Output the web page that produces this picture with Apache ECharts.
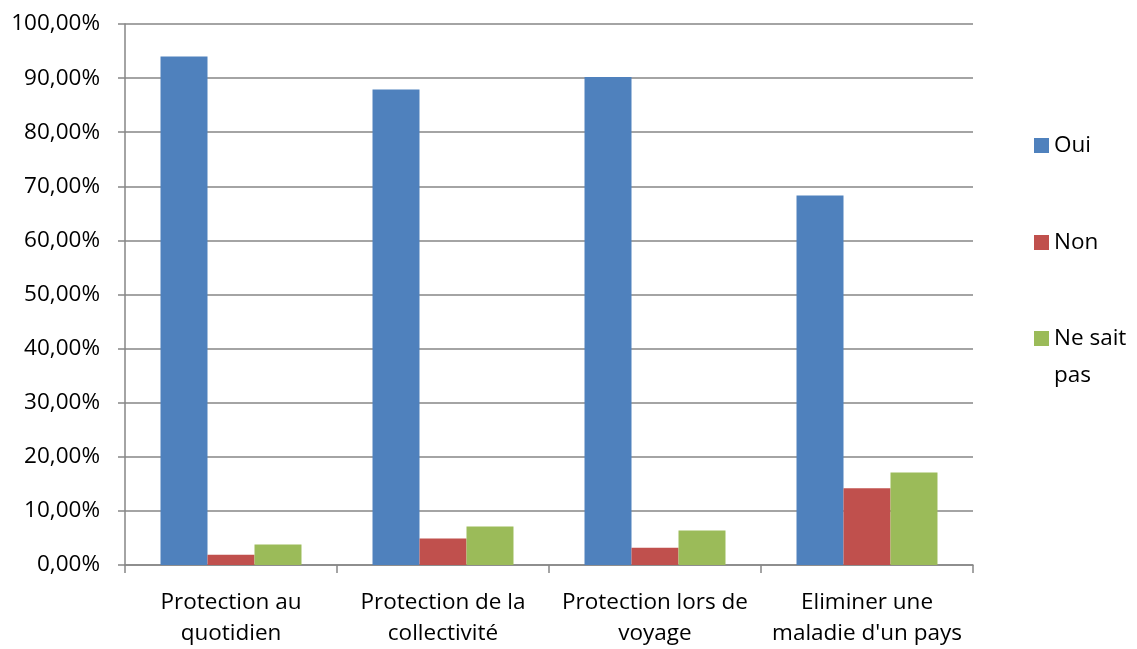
<!DOCTYPE html>
<html>
<head>
<meta charset="utf-8">
<script src="https://cdn.jsdelivr.net/npm/echarts@6/dist/echarts.min.js"></script>
<style>
html,body{margin:0;padding:0;background:#fff;}
#chart{width:1137px;height:649px;}
</style>
</head>
<body>
<div id="chart"></div>
<script>
const categories = ['Protection au\nquotidien', 'Protection de la\ncollectivité', 'Protection lors de\nvoyage', 'Eliminer une\nmaladie d\'un pays'];
const seriesNames = ['Oui', 'Non', 'Ne sait pas'];
const oui = [94.0, 87.9, 90.2, 68.3];
const non = [1.9, 4.9, 3.2, 14.2];
const nsp = [3.8, 7.1, 6.4, 17.1];
const colors = ['#4F81BD', '#C0504D', '#9BBB59'];

const FONT = 'Open Sans';
const FS = 22.5;
const chart = echarts.init(document.getElementById('chart'));
chart.setOption({
  animation: false,
  textStyle: { fontFamily: FONT },
  grid: { left: 125, right: 164, top: 24, bottom: 83, containLabel: false },
  legend: [
    {
      orient: 'vertical', left: 1034, top: 133.5, padding: 0,
      itemWidth: 15, itemHeight: 15, itemGap: 73,
      icon: 'rect',
      data: ['Oui', 'Non'],
      textStyle: { fontFamily: FONT, fontSize: FS, color: '#000', lineHeight: 24 }
    },
    {
      orient: 'vertical', left: 1034, top: 283, padding: 0,
      itemWidth: 15, itemHeight: 15,
      icon: 'rect',
      data: ['Ne sait pas'],
      formatter: function (n) { return ' \nNe sait\npas'; },
      textStyle: { fontFamily: FONT, fontSize: FS, color: '#000', lineHeight: 37 }
    }
  ],
  xAxis: {
    type: 'category',
    data: categories,
    axisLine: { lineStyle: { color: '#868686', width: 1.5 } },
    axisTick: { show: true, alignWithLabel: false, length: 8, lineStyle: { color: '#868686', width: 1.5 } },
    axisLabel: { fontFamily: FONT, fontSize: FS, color: '#000', lineHeight: 31, margin: 22, interval: 0 }
  },
  yAxis: {
    type: 'value',
    min: 0, max: 100, interval: 10,
    axisLine: { show: true, lineStyle: { color: '#868686', width: 1.5 } },
    axisTick: { show: true, length: 7, inside: false, lineStyle: { color: '#868686', width: 1.5 } },
    splitLine: { show: true, lineStyle: { color: '#868686', width: 1.5 } },
    axisLabel: {
      fontFamily: FONT, fontSize: FS, color: '#000', margin: 25,
      formatter: function (v) { return v.toFixed(2).replace('.', ',') + '%'; }
    }
  },
  series: [
    { name: seriesNames[0], type: 'bar', data: oui, itemStyle: { color: colors[0] }, barGap: '0%', barCategoryGap: '33.5%' },
    { name: seriesNames[1], type: 'bar', data: non, itemStyle: { color: colors[1] }, barGap: '0%', barCategoryGap: '33.5%' },
    { name: seriesNames[2], type: 'bar', data: nsp, itemStyle: { color: colors[2] }, barGap: '0%', barCategoryGap: '33.5%' }
  ]
});
</script>
</body>
</html>
